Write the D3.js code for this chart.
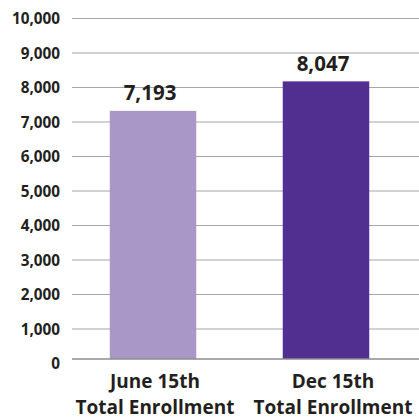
<!DOCTYPE html>
<html><head><meta charset="utf-8">
<script src="https://cdn.jsdelivr.net/npm/d3@7"></script>
<style>body{margin:0;background:#fff}svg{display:block}text{font-family:"Open Sans",sans-serif;font-weight:bold;fill:#231f20}</style>
</head><body>
<svg id="c" width="419" height="419"></svg>
<script>
const categories = ["June 15th|Total Enrollment", "Dec 15th|Total Enrollment"];
const values = [7193, 8047];
const valueLabels = ["7,193", "8,047"];
const tickValues = [0,1000,2000,3000,4000,5000,6000,7000,8000,9000,10000];
const colors = ["#a897c7", "#512f91"];

const svg = d3.select("#c");
const x = d3.scaleBand().domain(categories).range([66.5, 412.5]).paddingInner(0.5).paddingOuter(0.25);
const yGrid = d3.scaleLinear().domain([0,10000]).range([363.5, 18.5]);
const yBar = d3.scaleLinear().domain([0,10000]).range([359, 14]);

svg.append("g").selectAll("line").data(tickValues.filter(d=>d>0)).join("line")
  .attr("x1",72).attr("x2",419)
  .attr("y1",d=>yGrid(d)).attr("y2",d=>yGrid(d))
  .attr("stroke","#a6a6a6").attr("stroke-width",1.2);

svg.append("g").selectAll("text").data(tickValues).join("text")
  .attr("x",60).attr("y",d=>yGrid(d)).attr("dy","0.36em")
  .attr("text-anchor","end").attr("font-size",15.3)
  .text(d=>d3.format(",")(d));

svg.append("g").selectAll("rect").data(values).join("rect")
  .attr("x",(d,i)=>x(categories[i])).attr("width",x.bandwidth())
  .attr("y",d=>yBar(d)).attr("height",d=>yBar(0)-yBar(d))
  .attr("fill",(d,i)=>colors[i]);

svg.append("line").attr("x1",72).attr("x2",419).attr("y1",yBar(0)).attr("y2",yBar(0))
  .attr("stroke","#8c8c8c").attr("stroke-width",1.5);

svg.append("g").selectAll("text").data(values).join("text")
  .attr("x",(d,i)=>x(categories[i])+x.bandwidth()/2 - 3)
  .attr("y",d=>yBar(d)-10.5)
  .attr("text-anchor","middle").attr("font-size",20.5)
  .text((d,i)=>valueLabels[i]);

const lines = [];
categories.forEach((c,i)=>c.split("|").forEach((t,j)=>lines.push({c,i,j,t})));
svg.append("g").selectAll("text").data(lines).join("text")
  .attr("text-anchor","middle").attr("font-size",19)
  .attr("x",d=>x(d.c)+x.bandwidth()/2 + 2 + d.i*5)
  .attr("y",d=>387.5+d.j*26)
  .text(d=>d.t);
</script>
</body></html>
